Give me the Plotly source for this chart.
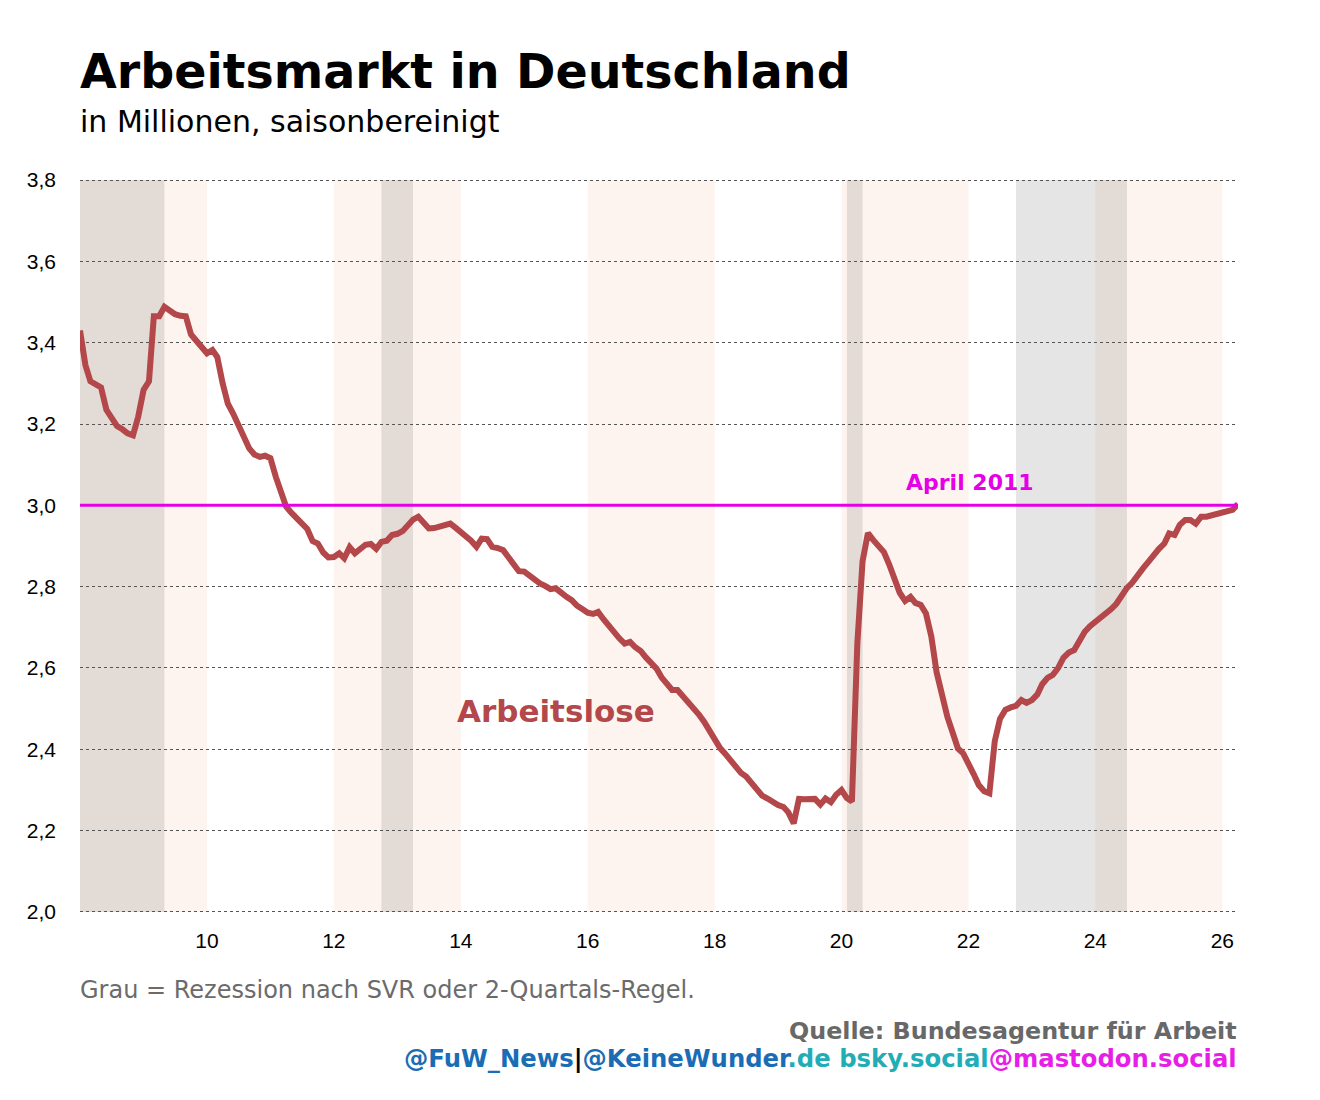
import pandas as pd
import plotly.graph_objects as go

# Arbeitslose in Mio., saisonbereinigt, monatlich ab Jan 2008
arbeitslose = [
    3.43, 3.345, 3.305, 3.298, 3.29, 3.235, 3.218, 3.195, 3.187, 3.177, 3.172, 3.218,   # 2008
    3.284, 3.305, 3.465, 3.465, 3.488, 3.478, 3.47, 3.466, 3.465, 3.42, 3.405, 3.387,   # 2009
    3.374, 3.382, 3.365, 3.30, 3.25, 3.225, 3.198, 3.165, 3.14, 3.125, 3.119, 3.122,    # 2010
    3.116, 3.07, 3.03, 2.997, 2.982, 2.968, 2.952, 2.942, 2.912, 2.906, 2.884, 2.872,   # 2011
    2.873, 2.882, 2.87, 2.897, 2.882, 2.893, 2.903, 2.905, 2.893, 2.91, 2.913, 2.927,   # 2012
    2.93, 2.937, 2.952, 2.965, 2.972, 2.955, 2.943, 2.944, 2.947, 2.95, 2.955, 2.945,   # 2013
    2.935, 2.925, 2.913, 2.898, 2.918, 2.917, 2.898, 2.895, 2.89, 2.873, 2.856, 2.838,  # 2014
    2.837, 2.826, 2.815, 2.808, 2.802, 2.794, 2.796, 2.784, 2.775, 2.767, 2.753, 2.745, # 2015
    2.736, 2.733, 2.738, 2.72, 2.703, 2.688, 2.673, 2.66, 2.664, 2.651, 2.642, 2.626,   # 2016
    2.612, 2.598, 2.577, 2.56, 2.546, 2.546, 2.532, 2.518, 2.502, 2.486, 2.468, 2.446,  # 2017
    2.422, 2.403, 2.39, 2.372, 2.358, 2.342, 2.333, 2.318, 2.30, 2.286, 2.279, 2.27,    # 2018
    2.263, 2.258, 2.245, 2.218, 2.278, 2.277, 2.279, 2.278, 2.264, 2.279, 2.27, 2.288,  # 2019
    2.30, 2.28, 2.272, 2.66, 2.862, 2.932, 2.915, 2.897, 2.885, 2.855, 2.815, 2.785,    # 2020
    2.765, 2.775, 2.76, 2.755, 2.734, 2.677, 2.59, 2.527, 2.48, 2.442, 2.402, 2.39,     # 2021
    2.36, 2.338, 2.312, 2.297, 2.292, 2.42, 2.475, 2.497, 2.503, 2.507, 2.521, 2.514,   # 2022
    2.521, 2.535, 2.56, 2.576, 2.583, 2.60, 2.625, 2.638, 2.644, 2.667, 2.689, 2.703,   # 2023
    2.713, 2.726, 2.733, 2.745, 2.758, 2.78, 2.797, 2.81, 2.83, 2.845, 2.861, 2.878,    # 2024
    2.893, 2.906, 2.931, 2.927, 2.952, 2.964, 2.964, 2.955, 2.972, 2.972, 2.975, 2.979, # 2025
    2.982, 2.985, 2.989, 3.003,                                                         # 2026
]
monate = pd.date_range("2008-01-01", periods=len(arbeitslose), freq="MS")

# Hintergrundbänder: jedes zweite Doppeljahr, Rezessionen grau
doppeljahre = [("2008-01-01", "2010-01-01"), ("2012-01-01", "2014-01-01"),
               ("2016-01-01", "2018-01-01"), ("2020-01-01", "2022-01-01"),
               ("2024-01-01", "2026-01-01")]
rezessionen = [("2008-01-01", "2009-05-01"), ("2012-10-01", "2013-04-01"),
               ("2020-02-01", "2020-05-01"), ("2022-10-01", "2024-07-01")]

jahre = [f"{j}-01-01" for j in range(2010, 2027, 2)]
jahre_text = [f"{j % 100:02d}" for j in range(2010, 2027, 2)]

y_min, y_max = 2.0, 3.8
referenz = 3.0
rot = "#b3474a"
magenta = "#e600e6"

fig = go.Figure()
fig.add_trace(go.Scatter(x=monate, y=arbeitslose, mode="lines",
                         line=dict(color=rot, width=6), hoverinfo="x+y"))

for x0, x1 in doppeljahre:
    fig.add_shape(type="rect", xref="x", yref="y", x0=x0, x1=x1, y0=y_min, y1=y_max,
                  fillcolor="#fdf4ef", line_width=0, layer="below")
for x0, x1 in rezessionen:
    fig.add_shape(type="rect", xref="x", yref="y", x0=x0, x1=x1, y0=y_min, y1=y_max,
                  fillcolor="rgba(0,0,0,0.1)", line_width=0, layer="below")

fig.add_shape(type="line", xref="paper", yref="y", x0=0, x1=1, y0=referenz, y1=referenz,
              line=dict(color=magenta, width=3))

fig.add_annotation(x="2022-01-12", y=referenz, yshift=23, text="<b>April 2011</b>",
                   showarrow=False, font=dict(family="DejaVu Sans", size=22, color=magenta))
fig.add_annotation(x="2015-07-01", y=2.494, text="<b>Arbeitslose</b>", showarrow=False,
                   font=dict(family="DejaVu Sans", size=31, color=rot))

# Titel und Fußzeilen
fig.add_annotation(xref="paper", yref="paper", x=-0.002, y=1.1447, xanchor="left", yanchor="middle",
                   text="<b>Arbeitsmarkt in Deutschland</b>", showarrow=False,
                   font=dict(family="DejaVu Sans", size=47.5, color="black"))
fig.add_annotation(xref="paper", yref="paper", x=-0.002, y=1.0774, xanchor="left", yanchor="middle",
                   text="in Millionen, saisonbereinigt", showarrow=False,
                   font=dict(family="DejaVu Sans", size=30, color="black"))
fig.add_annotation(xref="paper", yref="paper", x=-0.002, y=-0.103, xanchor="left", yanchor="middle",
                   text="Grau = Rezession nach SVR oder 2-Quartals-Regel.", showarrow=False,
                   font=dict(family="DejaVu Sans", size=24, color="#6b6b6b"))
fig.add_annotation(xref="paper", yref="paper", x=1.001, y=-0.159, xanchor="right", yanchor="middle",
                   text="<b>Quelle: Bundesagentur für Arbeit</b>", showarrow=False,
                   font=dict(family="DejaVu Sans", size=23.8, color="#686868"))
social = ('<b><span style="color:#1a6db5">@FuW_News</span>'
          '<span style="color:#000000">|</span>'
          '<span style="color:#1a6db5">@KeineWunder</span>'
          '<span style="color:#22adb6">.de bsky.social</span>'
          '<span style="color:#e61ee6">@mastodon.social</span></b>')
fig.add_annotation(xref="paper", yref="paper", x=1.001, y=-0.197, xanchor="right", yanchor="middle",
                   text=social, showarrow=False, font=dict(family="DejaVu Sans", size=24.3))

# Seite hat 8px Rand, darum Ränder um 8px verschoben
fig.update_layout(
    width=1320, height=1100,
    margin=dict(l=72, r=90, t=170, b=194),
    paper_bgcolor="white", plot_bgcolor="white",
    showlegend=False, separators=",.",
    font=dict(family="Liberation Sans", size=21, color="black"),
)
fig.update_xaxes(type="date", range=["2008-01-01", "2026-04-01"],
                 tickvals=jahre, ticktext=jahre_text, showgrid=False,
                 zeroline=False, showline=False, ticks="", ticklabelstandoff=12,
                 tickfont=dict(family="Liberation Sans", size=21))
fig.update_yaxes(range=[y_min - 0.005, y_max + 0.005], dtick=0.2, tick0=y_min, tickformat=".1f",
                 showgrid=True, gridcolor="#555555", gridwidth=1, griddash="3px,3px",
                 zeroline=False, showline=False, ticks="", ticklabelstandoff=23,
                 tickfont=dict(family="Liberation Sans", size=21))

fig.write_html("out.html")
